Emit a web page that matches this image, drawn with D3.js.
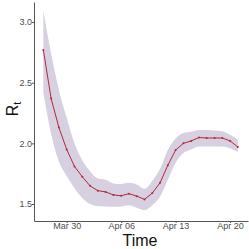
<!DOCTYPE html>
<html>
<head>
<meta charset="utf-8">
<script src="https://cdn.jsdelivr.net/npm/d3@7"></script>
<style>
  body { margin: 0; background: #fff; }
  .tick text { font-family: "Liberation Sans", Arial, sans-serif; font-size: 9px; fill: #4d4d4d; }
  .domain { stroke: #555; }
</style>
</head>
<body>
<div class="chart"></div>
<script>
// daily estimates, Mar 27 - Apr 21
var dates = ["2020-03-27","2020-03-28","2020-03-29","2020-03-30","2020-03-31","2020-04-01","2020-04-02",
  "2020-04-03","2020-04-04","2020-04-05","2020-04-06","2020-04-07","2020-04-08","2020-04-09","2020-04-10",
  "2020-04-11","2020-04-12","2020-04-13","2020-04-14","2020-04-15","2020-04-16","2020-04-17","2020-04-18",
  "2020-04-19","2020-04-20","2020-04-21"];
var rt = [2.77,2.37,2.13,1.95,1.81,1.725,1.65,1.61,1.60,1.575,1.568,1.585,1.565,1.538,1.59,1.675,1.82,1.945,
  2.0,2.02,2.048,2.044,2.044,2.044,2.02,1.97];
var upper = [3.09,2.74,2.44,2.21,2.00,1.86,1.77,1.71,1.70,1.67,1.665,1.675,1.66,1.625,1.69,1.79,1.945,2.04,
  2.085,2.095,2.11,2.11,2.105,2.10,2.07,2.03];
var lower = [2.42,2.08,1.85,1.73,1.63,1.55,1.50,1.483,1.48,1.478,1.48,1.49,1.47,1.45,1.49,1.56,1.70,1.84,
  1.92,1.95,1.975,1.975,1.975,1.975,1.96,1.93];
var yTicks = [1.5, 2.0, 2.5, 3.0];
var xTickDates = ["2020-03-30","2020-04-06","2020-04-13","2020-04-20"];

var parse = d3.timeParse("%Y-%m-%d");
var data = dates.map(function(d, i) {
  return { date: parse(d), rt: rt[i], hi: upper[i], lo: lower[i] };
});

var svgWidth = 249, svgHeight = 249;
var margin = { top: 2, right: 1, bottom: 28, left: 34 };
var width = svgWidth - margin.left - margin.right;
var height = svgHeight - margin.top - margin.bottom;

var svg = d3.select(".chart").append("svg")
  .attr("width", svgWidth)
  .attr("height", svgHeight);

var chartGroup = svg.append("g")
  .attr("transform", `translate(${margin.left}, ${margin.top})`);

var day = 864e5;
var x = d3.scaleTime()
  .domain([new Date(data[0].date.getTime() - 1.2 * day), new Date(data[data.length - 1].date.getTime() + 1.3 * day)])
  .range([0, width]);

var y = d3.scaleLinear()
  .domain([1.36, 3.165])
  .range([height, 0]);

// band
var area = d3.area()
  .x(d => x(d.date))
  .y0(d => y(d.lo))
  .y1(d => y(d.hi))
  .curve(d3.curveMonotoneX);

chartGroup.append("path")
  .datum(data)
  .attr("d", area)
  .attr("fill", "#d7d0e1");

var line = d3.line()
  .x(d => x(d.date))
  .y(d => y(d.rt));

chartGroup.append("path")
  .datum(data)
  .attr("d", line)
  .attr("fill", "none")
  .attr("stroke", "#b5263a")
  .attr("stroke-width", 1);

chartGroup.selectAll("circle")
  .data(data)
  .enter()
  .append("circle")
  .attr("cx", d => x(d.date))
  .attr("cy", d => y(d.rt))
  .attr("r", 1)
  .attr("fill", "#b5263a");

// axes
var bottomAxis = d3.axisBottom(x)
  .tickValues(xTickDates.map(parse))
  .tickFormat(d3.timeFormat("%b %d"))
  .tickSize(2)
  .tickSizeOuter(0);

var leftAxis = d3.axisLeft(y)
  .tickValues(yTicks)
  .tickFormat(d3.format(".1f"))
  .tickSize(2)
  .tickSizeOuter(0);

var xAxis = chartGroup.append("g")
  .attr("transform", `translate(0, ${height})`)
  .call(bottomAxis);
xAxis.selectAll(".tick line").attr("stroke", "#555");
xAxis.selectAll(".tick text").attr("y", 2).attr("dy", "0.71em");

var yAxis = chartGroup.append("g")
  .call(leftAxis);
yAxis.selectAll(".tick line").attr("stroke", "#555");
yAxis.selectAll(".tick text").attr("x", -2);

// labels
svg.append("text")
  .attr("x", margin.left + width / 2 - 1)
  .attr("y", 246)
  .attr("text-anchor", "middle")
  .attr("font-family", "Liberation Sans, Arial, sans-serif")
  .attr("font-size", "16px")
  .attr("fill", "#111")
  .text("Time");

var yLab = svg.append("text")
  .attr("transform", "translate(18, 109) rotate(-90)")
  .attr("text-anchor", "middle")
  .attr("font-family", "Liberation Sans, Arial, sans-serif")
  .attr("font-size", "16px")
  .attr("fill", "#111");
yLab.append("tspan").text("R");
yLab.append("tspan").attr("font-size", "11px").attr("dy", "0.25em").text("t");
</script>
</body>
</html>
